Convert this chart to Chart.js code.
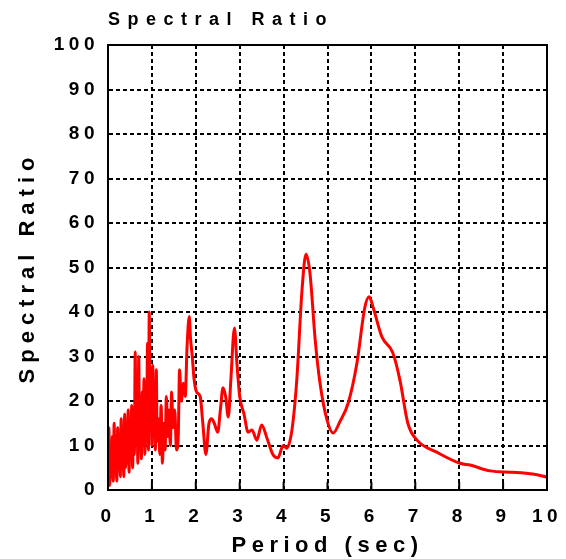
<!DOCTYPE html>
<html>
<head>
<meta charset="utf-8">
<script src="https://cdn.jsdelivr.net/npm/chart.js@4"></script>
<style>
    html, body { margin: 0; padding: 0; background: #ffffff; }
    #wrap { width: 566px; height: 559px; position: relative; }
</style>
</head>
<body>
<div id="wrap"><canvas id="chart"></canvas></div>
<script>
// Period (sec) values
const periods = [
    0.00, 0.02, 0.04, 0.06, 0.08, 0.10, 0.12, 0.14, 0.16, 0.18,
    0.20, 0.22, 0.24, 0.26, 0.28, 0.30, 0.32, 0.34, 0.36, 0.38,
    0.40, 0.42, 0.44, 0.46, 0.48, 0.50, 0.52, 0.54, 0.56, 0.58,
    0.60, 0.62, 0.64, 0.66, 0.68, 0.70, 0.72, 0.74, 0.76, 0.78,
    0.80, 0.82, 0.84, 0.86, 0.88, 0.90, 0.92, 0.94, 0.96, 0.98,
    1.00, 1.02, 1.04, 1.06, 1.08, 1.10, 1.12, 1.15, 1.18, 1.21,
    1.24, 1.27, 1.30, 1.33, 1.36, 1.39, 1.42, 1.45, 1.48, 1.52,
    1.56, 1.60, 1.63, 1.67, 1.72, 1.76, 1.80, 1.85, 1.88, 1.92,
    1.96, 2.02, 2.10, 2.16, 2.23, 2.30, 2.36, 2.42, 2.50, 2.56,
    2.62, 2.68, 2.74, 2.80, 2.88, 2.94, 3.00, 3.10, 3.19, 3.28,
    3.39, 3.50, 3.62, 3.76, 3.87, 3.99, 4.07, 4.19, 4.30, 4.42,
    4.51, 4.60, 4.72, 4.83, 4.99, 5.13, 5.28, 5.47, 5.67, 5.85,
    5.95, 6.04, 6.24, 6.49, 6.65, 6.83, 7.04, 7.49, 8.02, 8.25,
    8.70, 9.23, 9.68, 10.00
];

// Spectral ratio at each period
const ratios = [
    2, 14, 1, 9, 3, 12, 2, 15, 4, 8,
    2, 14, 5, 11, 3, 16, 6, 10, 3, 17,
    5, 13, 6, 18, 4, 15, 7, 19, 5, 14,
    8, 31, 10, 20, 6, 30, 9, 18, 7, 22,
    10, 25, 8, 16, 12, 33, 9, 40, 14, 22,
    10, 28, 12, 18, 9, 27, 11, 16, 8, 19,
    6, 15, 9, 21, 12, 18, 10, 22, 14, 18,
    9, 12, 27, 20, 24, 21, 32, 39, 34, 30,
    25, 22, 21, 15, 8, 15, 16, 15, 13, 18,
    23, 21, 16.4, 25, 36.4, 28, 21, 17, 13, 13.5,
    11.2, 14.6, 11.7, 7.9, 7.2, 10, 9.4, 13.5, 24.7, 45,
    53, 48.8, 33.7, 24, 15.7, 12.8, 15.3, 19.5, 28.5, 41,
    43.4, 41, 34.4, 30.8, 24.7, 15, 11.2, 8.5, 6, 5.6,
    4.3, 4, 3.6, 2.9
];

const xTicks = [0, 1, 2, 3, 4, 5, 6, 7, 8, 9, 10];
const yTicks = [0, 10, 20, 30, 40, 50, 60, 70, 80, 90, 100];

const chartTitle = 'Spectral Ratio';
const xTitle = 'Period (sec)';
const yTitle = 'Spectral Ratio';

const fontFamily = '"Liberation Sans", Arial, Helvetica, sans-serif';

// canvas letter spacing, context state gets reset on resize
const setSpacing = (chart) => { chart.ctx.letterSpacing = '4.5px'; };
const spacingPlugin = {
    id: 'spacing',
    beforeUpdate: setSpacing,
    beforeDraw(chart) {
        setSpacing(chart);
        // wider spacing for the axis titles
        ['x', 'y'].forEach((id) => {
            const scale = chart.scales[id];
            if (!scale || scale._spaced) return;
            const orig = scale.drawTitle.bind(scale);
            scale.drawTitle = function () {
                const ctx = this.ctx;
                const old = ctx.letterSpacing;
                ctx.letterSpacing = id === 'y' ? '6px' : '5.5px';
                orig();
                ctx.letterSpacing = old;
            };
            scale._spaced = true;
        });
    },
};

// box round the plot, inner ticks on bottom axis and the title
const framePlugin = {
    id: 'frame',
    afterDatasetsDraw(chart) {
        const { ctx, chartArea } = chart;
        const xs = chart.scales.x;
        ctx.save();
        ctx.setLineDash([]);
        ctx.strokeStyle = '#000000';
        ctx.lineWidth = 2;
        ctx.beginPath();
        xTicks.forEach((v) => {
            const px = xs.getPixelForValue(v);
            ctx.moveTo(px, chartArea.bottom);
            ctx.lineTo(px, chartArea.bottom - 8);
        });
        ctx.stroke();
        ctx.strokeRect(chartArea.left, chartArea.top,
            chartArea.right - chartArea.left, chartArea.bottom - chartArea.top);
        ctx.restore();
    },
    afterDraw(chart) {
        const { ctx, chartArea } = chart;
        ctx.save();
        ctx.letterSpacing = '7.5px';
        ctx.font = 'bold 18px ' + fontFamily;
        ctx.fillStyle = '#000000';
        ctx.textAlign = 'left';
        ctx.textBaseline = 'middle';
        ctx.fillText(chartTitle, chartArea.left, 20);
        ctx.restore();
    },
};

new Chart(document.getElementById('chart'), {
    type: 'line',
    data: {
        datasets: [{
            data: periods.map((p, i) => ({ x: p, y: ratios[i] })),
            borderColor: '#ff0000',
            borderWidth: 3,
            pointRadius: 0,
            fill: false,
            cubicInterpolationMode: 'monotone',
        }],
    },
    options: {
        responsive: true,
        maintainAspectRatio: false,
        animation: false,
        layout: {
            padding: { top: 45, right: 19, bottom: 0, left: 0 },
        },
        scales: {
            x: {
                type: 'linear',
                min: 0,
                max: 10,
                afterFit: (scale) => {
                    scale.height = 69;
                    scale.paddingLeft = 0;
                    scale.paddingRight = 0;
                },
                afterBuildTicks: (scale) => {
                    scale.ticks = xTicks.map((v) => ({ value: v }));
                },
                border: { display: true, color: '#000000', width: 2, dash: [4, 3] },
                grid: { color: '#000000', lineWidth: 2, drawTicks: false },
                ticks: {
                    padding: 15,
                    color: '#000000',
                    maxRotation: 0,
                    font: { family: fontFamily, size: 19, weight: 'bold' },
                },
                title: {
                    display: true,
                    text: xTitle,
                    color: '#000000',
                    padding: { top: 0, bottom: 0 },
                    font: { family: fontFamily, size: 22, weight: 'bold' },
                },
            },
            y: {
                min: 0,
                max: 100,
                afterFit: (scale) => { scale.width = 108; },
                afterBuildTicks: (scale) => {
                    scale.ticks = yTicks.map((v) => ({ value: v }));
                },
                border: { display: true, color: '#000000', width: 2, dash: [4, 3] },
                grid: { color: '#000000', lineWidth: 2, drawTicks: false },
                ticks: {
                    padding: 9,
                    color: '#000000',
                    font: { family: fontFamily, size: 19, weight: 'bold' },
                },
                title: {
                    display: true,
                    text: yTitle,
                    color: '#000000',
                    padding: { top: 15, bottom: 0 },
                    font: { family: fontFamily, size: 22, weight: 'bold' },
                },
            },
        },
        plugins: {
            legend: { display: false },
            tooltip: { enabled: false },
        },
    },
    plugins: [spacingPlugin, framePlugin],
});
</script>
</body>
</html>
